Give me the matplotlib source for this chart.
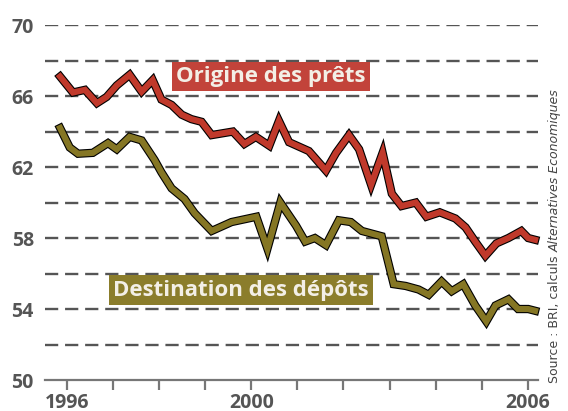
import matplotlib
matplotlib.use("Agg")
import matplotlib.pyplot as plt
import matplotlib.patheffects as pe

# Origine des prêts (rouge) — sommets
pret_x = [1995.85, 1996.13, 1996.39, 1996.65, 1996.86, 1997.08, 1997.36, 1997.62,
          1997.86, 1998.05, 1998.27, 1998.49, 1998.70, 1998.92, 1999.14, 1999.60,
          1999.85, 2000.10, 2000.39, 2000.60, 2000.82, 2001.25, 2001.62, 2001.84,
          2002.12, 2002.34, 2002.60, 2002.85, 2003.05, 2003.26, 2003.57, 2003.80,
          2004.09, 2004.43, 2004.65, 2004.86, 2005.08, 2005.32, 2005.58, 2005.86,
          2006.01, 2006.16]
pret_y = [67.1, 66.2, 66.35, 65.6, 65.95, 66.6, 67.2, 66.25,
          66.9, 65.8, 65.5, 64.95, 64.7, 64.55, 63.8, 64.0,
          63.3, 63.7, 63.2, 64.6, 63.4, 62.9, 61.8, 62.8,
          63.8, 63.0, 61.0, 62.8, 60.5, 59.8, 60.0, 59.2,
          59.45, 59.1, 58.6, 57.8, 57.0, 57.7, 58.0, 58.4,
          58.0, 57.9]

# Destination des dépôts (olive)
depot_x = [1995.85, 1996.06, 1996.24, 1996.56, 1996.89, 1997.08, 1997.36, 1997.62,
           1997.90, 1998.05, 1998.27, 1998.55, 1998.77, 1999.14, 1999.57, 2000.11,
           2000.35, 2000.63, 2000.97, 2001.17, 2001.38, 2001.62, 2001.90, 2002.16,
           2002.40, 2002.83, 2003.09, 2003.35, 2003.63, 2003.85, 2004.13, 2004.35,
           2004.60, 2004.86, 2005.10, 2005.30, 2005.58, 2005.79, 2006.01, 2006.16]
depot_y = [64.2, 63.1, 62.75, 62.8, 63.35, 63.0, 63.7, 63.5,
           62.4, 61.7, 60.8, 60.2, 59.4, 58.4, 58.9, 59.2,
           57.4, 60.0, 58.7, 57.8, 58.0, 57.6, 59.0, 58.9,
           58.4, 58.1, 55.4, 55.3, 55.1, 54.8, 55.55, 55.0,
           55.4, 54.2, 53.3, 54.2, 54.55, 54.0, 54.0, 53.9]

grid_levels = [52, 54, 56, 58, 60, 62, 64, 66, 68, 70]
ytick_vals = [50, 54, 58, 62, 66, 70]
year_ticks = list(range(1996, 2007))
year_labels = {1996: "1996", 2000: "2000", 2006: "2006"}

RED = "#c0392b"
OLIVE = "#857624"
GRAY = "#555555"
FONT = "Open Sans"

fig = plt.figure(figsize=(5.68, 4.11), dpi=100, facecolor="white")
ax = fig.add_axes([0.079, 0.0754, 0.868, 0.8636])
ax.set_xlim(1995.52, 2006.22)
ax.set_ylim(50, 70)

for g in grid_levels:
    ln = ax.axhline(g, color=GRAY, lw=1.7, zorder=1)
    ln.set_dashes((5.6, 2.9))
    ln.set_dash_capstyle("butt")

for s in ("top", "right", "left"):
    ax.spines[s].set_visible(False)
ax.spines["bottom"].set_color("#777777")
ax.spines["bottom"].set_linewidth(1.6)

ax.set_yticks(ytick_vals)
ax.set_yticklabels([str(v) for v in ytick_vals])
ax.tick_params(axis="y", length=0, pad=8, labelsize=14, labelcolor=GRAY)
ax.set_xticks(year_ticks)
ax.set_xticklabels([year_labels.get(y, "") for y in year_ticks])
ax.tick_params(axis="x", length=7, width=1.6, color="#777777", pad=2,
               labelsize=14, labelcolor=GRAY)
for lab in ax.get_xticklabels() + ax.get_yticklabels():
    lab.set_fontfamily(FONT)
    lab.set_fontweight("bold")

outline = [pe.Stroke(linewidth=6.0, foreground="black"), pe.Normal()]
ax.plot(pret_x, pret_y, color=RED, lw=4.4, solid_joinstyle="miter",
        path_effects=outline, zorder=3, clip_on=False)
ax.plot(depot_x, depot_y, color=OLIVE, lw=4.4, solid_joinstyle="miter",
        path_effects=outline, zorder=3, clip_on=False)

box = dict(boxstyle="square,pad=0.2", lw=0)
ax.text(2000.43, 67.1, "Origine des prêts", ha="center", va="center",
        fontsize=16, fontweight="bold", family=FONT, color="#f3efe6",
        bbox=dict(box, fc="#c2433a"), zorder=4)
ax.text(1999.78, 55.05, "Destination des dépôts", ha="center", va="center",
        fontsize=16, fontweight="bold", family=FONT, color="#f3efe6",
        bbox=dict(box, fc="#8b7d2b"), zorder=4)

# Source, verticale à droite : partie droite puis partie italique
r = fig.canvas.get_renderer()
t1 = fig.text(0.977, 0.068, "Source : BRI, calculs ", rotation=90, ha="center",
              va="bottom", fontsize=9, color="#444444", family="Liberation Sans Narrow")
bb = t1.get_window_extent(r)
fig.text(0.977, bb.y1 / fig.bbox.height, "Alternatives Economiques", rotation=90,
         ha="center", va="bottom", fontsize=9, color="#444444",
         family="Liberation Sans Narrow", style="italic")

fig.savefig("out.png", dpi=100, facecolor="white")
